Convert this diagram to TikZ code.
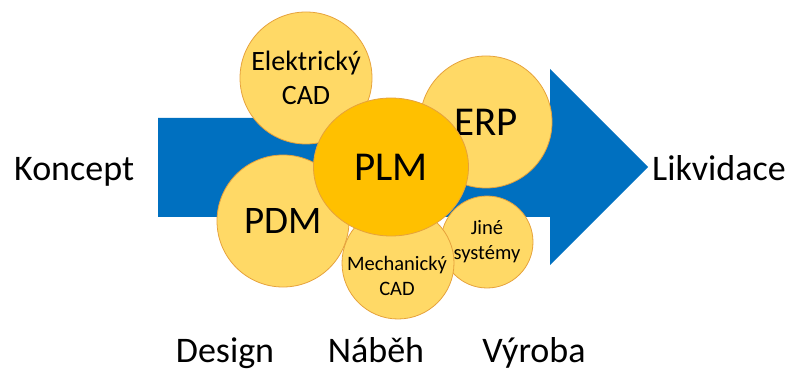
\documentclass[tikz,border=0pt]{standalone}
\usepackage{fontspec}
\setmainfont{Carlito}
\usetikzlibrary{shapes.geometric}
\definecolor{arrowblue}{HTML}{0070C0}
\definecolor{lightgold}{HTML}{FFD966}
\definecolor{gold}{HTML}{FFC000}
\definecolor{goldline}{HTML}{E6A23C}
\tikzset{
  bubble/.style={circle, fill=lightgold, draw=goldline, line width=0.8pt, align=center, inner sep=0pt},
  stage/.style={font=\fontsize{36}{43}\selectfont, inner sep=0pt}
}
\begin{document}
\begin{tikzpicture}[x=1pt,y=-1pt]
\useasboundingbox (0,0) rectangle (794,371);
% arrow
\fill[arrowblue] (158,118) -- (550,118) -- (550,69) -- (648,167) -- (550,265) -- (550,217) -- (158,217) -- cycle;
% stages
\node[stage, anchor=west] (koncept) at (14,172) {Koncept};
\node[stage, anchor=west] (likv) at (652,168) {Likvidace};
\node[stage, anchor=base] (design) at (225,362) {Design};
\node[stage, anchor=base] (nabeh) at (376,362) {Náběh};
\node[stage, anchor=base] (vyroba) at (534,362) {Výroba};
% bubbles
\node[bubble, minimum size=132pt, font=\fontsize{28}{34}\selectfont] (ecad) at (306,78) {Elektrický\\CAD};
\node[bubble, minimum size=132pt, font=\fontsize{41}{48}\selectfont] (erp) at (486,122) {ERP};
\node[bubble, minimum size=132pt, font=\fontsize{39}{46}\selectfont] (pdm) at (283,221) {PDM};
\node[bubble, minimum size=92pt, font=\fontsize{20.5}{25}\selectfont] (jine) at (487,242) {Jiné\\systémy};
\node[bubble, minimum size=112pt, font=\fontsize{20.5}{25}\selectfont] (mcad) at (398,263) {};
\node[align=center, font=\fontsize{20.5}{25}\selectfont, inner sep=0pt] (mcadtext) at (397,276) {Mechanický\\CAD};
\node[ellipse, fill=gold, draw=goldline, line width=0.8pt, minimum width=155pt, minimum height=138pt, inner sep=0pt, font=\fontsize{41}{48}\selectfont] (plm) at (391,167) {PLM};
\end{tikzpicture}
\end{document}
